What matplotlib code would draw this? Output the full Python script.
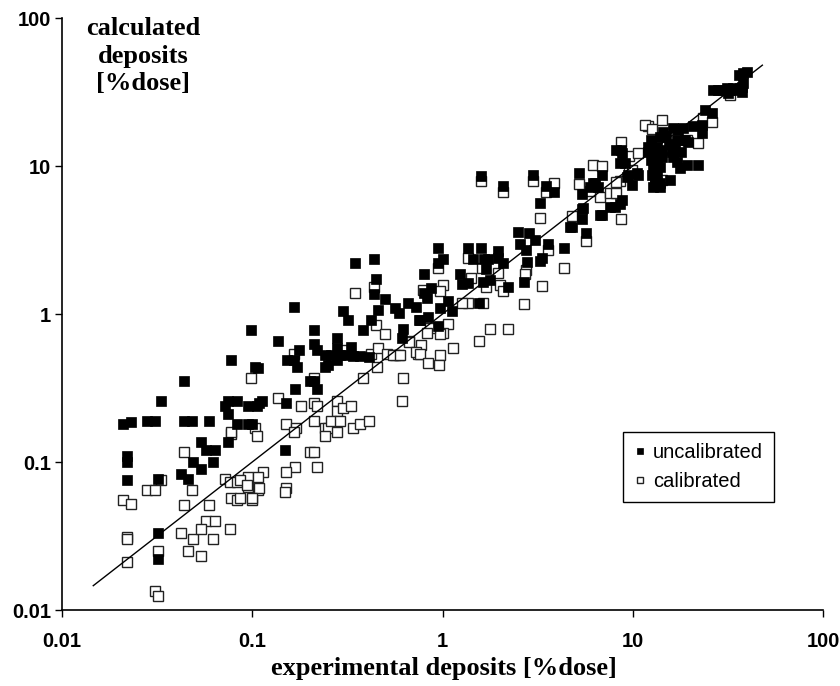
import numpy as np
import matplotlib
matplotlib.use("Agg")
from matplotlib import pyplot as plt

# (experimental, calculated) deposits in %dose
uncalibrated = [
    (0.021, 0.18), (0.023, 0.185), (0.022, 0.11), (0.022, 0.1), (0.022, 0.075),
    (0.028, 0.19), (0.031, 0.19), (0.033, 0.26), (0.032, 0.077), (0.032, 0.033), (0.032, 0.022),
    (0.044, 0.35), (0.044, 0.19), (0.048, 0.19), (0.059, 0.19), (0.054, 0.137), (0.057, 0.12),
    (0.064, 0.12), (0.049, 0.1), (0.054, 0.09), (0.062, 0.1), (0.042, 0.083), (0.046, 0.077),
    (0.075, 0.26), (0.083, 0.26), (0.072, 0.24), (0.075, 0.21), (0.095, 0.24), (0.106, 0.24),
    (0.083, 0.18), (0.095, 0.18), (0.1, 0.18), (0.075, 0.137), (0.108, 0.25), (0.112, 0.26),
    (0.15, 0.25), (0.149, 0.12), (0.077, 0.49),
    (0.098, 0.78), (0.136, 0.66), (0.21, 0.78), (0.176, 0.57), (0.152, 0.49), (0.165, 0.49),
    (0.171, 0.44), (0.21, 0.63), (0.22, 0.57), (0.24, 0.53), (0.26, 0.53), (0.28, 0.69),
    (0.28, 0.59), (0.33, 0.6), (0.29, 0.53), (0.31, 0.53), (0.34, 0.52), (0.37, 0.52),
    (0.41, 0.51), (0.24, 0.44), (0.25, 0.45), (0.28, 0.49), (0.103, 0.44), (0.107, 0.43),
    (0.2, 0.35), (0.21, 0.35), (0.22, 0.31), (0.167, 0.31),
    (0.165, 1.11), (0.3, 1.05), (0.32, 0.91), (0.38, 0.78), (0.42, 0.91), (0.5, 1.26),
    (0.46, 1.06), (0.56, 1.1), (0.59, 1.02), (0.66, 1.18), (0.73, 1.11), (0.75, 0.91),
    (0.62, 0.79), (0.61, 0.69), (0.347, 2.2), (0.436, 2.35), (0.445, 1.72), (0.436, 1.37),
    (0.83, 1.28), (0.97, 1.1), (1.07, 1.22), (1.12, 1.05), (1.55, 1.19), (0.76, 0.91),
    (0.84, 0.95), (0.95, 0.83),
    (0.95, 2.79), (1.36, 2.79), (1.59, 2.79), (1.96, 2.67), (1.01, 2.35), (0.95, 2.21),
    (1.45, 2.35), (1.65, 2.35), (1.73, 2.34), (1.96, 2.39), (2.08, 2.21), (0.8, 1.86),
    (1.24, 1.86), (1.27, 1.6), (1.36, 1.63), (1.69, 2.01), (1.63, 1.64), (1.78, 1.7),
    (2.2, 1.53), (0.87, 1.5), (0.8, 1.39),
    (1.59, 8.56), (2.99, 8.7), (2.08, 7.3), (3.5, 7.3), (3.85, 6.7), (5.2, 9.0),
    (5.96, 7.2), (6.3, 7.7), (6.6, 7.2), (5.4, 6.5), (3.26, 5.6), (5.4, 5.1), (5.4, 4.4),
    (4.7, 3.9), (6.7, 4.7), (5.7, 3.5), (2.49, 3.6), (2.85, 3.5), (2.55, 2.97), (2.75, 2.7),
    (3.06, 3.16), (3.59, 2.97), (4.35, 2.79), (2.78, 2.24), (2.68, 1.64), (3.33, 2.39),
    (3.26, 2.28),
    (6.9, 8.7), (8.6, 10.5), (9.1, 10.5), (8.8, 12.2), (9.4, 8.7), (10.7, 8.7), (9.9, 7.4),
    (12.0, 12.4), (12.8, 11.5), (13.4, 10.5), (14.3, 11.5), (16.3, 11.5), (17.1, 10.6),
    (17.7, 9.7), (19.3, 10.2), (22.0, 10.2), (12.6, 8.7), (13.4, 7.8), (13.1, 7.4),
    (13.9, 7.2), (15.7, 8.0), (8.8, 5.9), (8.1, 5.3), (7.6, 5.3), (6.9, 4.7), (4.8, 3.9),
    (38, 42.5), (40, 43), (36, 41), (38, 36.4), (26.4, 32.6), (28.1, 32.6), (29.8, 32.6),
    (31.3, 33.6), (32.4, 32.6), (33.6, 33.6), (35.3, 32.6), (36.7, 33.6), (37.5, 34.2),
    (37.5, 31.6), (31.6, 31.1), (24, 23.9), (26.1, 22.8), (23.2, 18.9), (23.2, 16.7),
    (20.7, 18.5),
    (16.3, 18.2), (17.3, 17.6), (18.3, 18.2), (18.8, 15), (19.5, 14.6), (16.7, 13.5),
    (13.9, 15.8), (13.4, 13.5), (14.3, 12.9), (12.0, 13.5), (13.1, 11.8), (12.4, 11.0),
    (15, 16), (14.5, 17), (17, 15), (15.5, 14), (12.5, 15), (18, 12.5), (16, 12.5),
    (8.7, 12.9), (8.2, 12.9), (9.3, 8.4), (10.5, 9.0), (12.8, 9.8), (13.4, 9.1), (13.9, 9.8),
    (13.1, 8.0), (13.9, 7.7), (12.8, 7.2), (6.2, 7.7), (8.6, 5.5), (5.5, 5.2),
]

calibrated = [
    (0.021, 0.055), (0.023, 0.052), (0.022, 0.031), (0.022, 0.03), (0.022, 0.021),
    (0.033, 0.075), (0.028, 0.065), (0.031, 0.065), (0.032, 0.025), (0.031, 0.0135),
    (0.032, 0.0125),
    (0.044, 0.117), (0.048, 0.065), (0.044, 0.051), (0.059, 0.051), (0.042, 0.033),
    (0.049, 0.03), (0.046, 0.025), (0.054, 0.023), (0.057, 0.04), (0.064, 0.04),
    (0.054, 0.035), (0.062, 0.03), (0.076, 0.035),
    (0.077, 0.155), (0.103, 0.17), (0.106, 0.15), (0.072, 0.077), (0.076, 0.073),
    (0.083, 0.073), (0.095, 0.077), (0.095, 0.068), (0.107, 0.065), (0.077, 0.057),
    (0.083, 0.055), (0.1, 0.055),
    (0.436, 1.53), (0.347, 1.38), (0.445, 0.84), (0.5, 0.73), (0.67, 0.66), (0.74, 0.54),
    (0.165, 0.54), (0.3, 0.57), (0.42, 0.54), (0.46, 0.59), (0.51, 0.54), (0.56, 0.53),
    (0.59, 0.53), (0.45, 0.44), (0.38, 0.37), (0.62, 0.37), (0.61, 0.26), (0.098, 0.37),
    (0.21, 0.37),
    (0.136, 0.27), (0.18, 0.24), (0.21, 0.25), (0.22, 0.24), (0.28, 0.26), (0.28, 0.22),
    (0.3, 0.23), (0.33, 0.24), (0.077, 0.16), (0.15, 0.18), (0.17, 0.17), (0.165, 0.16),
    (0.21, 0.19), (0.24, 0.17), (0.25, 0.17), (0.24, 0.15), (0.26, 0.19), (0.29, 0.19),
    (0.28, 0.16), (0.34, 0.17), (0.37, 0.18), (0.41, 0.19), (0.2, 0.117), (0.21, 0.117),
    (0.167, 0.092), (0.22, 0.092), (0.15, 0.0855), (0.15, 0.067), (0.148, 0.063),
    (0.114, 0.086), (0.095, 0.079), (0.107, 0.079), (0.086, 0.076), (0.094, 0.07),
    (0.108, 0.067), (0.1, 0.057), (0.086, 0.057),
    (1.59, 7.9), (3.0, 7.9), (2.08, 6.7), (3.85, 7.7), (3.5, 6.7), (6.2, 10.2),
    (5.2, 7.6), (6.7, 6.2), (3.26, 4.45), (4.8, 4.6), (5.7, 3.1), (3.59, 2.7),
    (2.75, 1.98), (2.7, 1.86), (3.33, 1.55), (4.35, 2.05), (2.68, 1.17),
    (0.95, 2.05), (1.36, 2.39), (1.42, 1.75), (1.62, 2.05), (1.96, 1.89), (2.0, 1.57),
    (1.7, 1.53), (2.08, 1.43), (1.01, 1.57), (0.97, 1.43), (0.79, 1.46), (1.63, 1.19),
    (1.36, 1.19), (1.27, 1.19),
    (1.07, 0.86), (1.01, 0.74), (0.97, 0.73), (0.86, 0.81), (0.83, 0.74), (0.67, 0.65),
    (0.77, 0.62), (0.73, 0.55), (0.76, 0.54), (0.55, 0.53), (0.6, 0.53), (1.13, 0.59),
    (0.97, 0.53), (0.84, 0.47), (0.96, 0.45), (1.78, 0.79), (2.2, 0.79), (1.55, 0.66),
    (6.9, 10.0), (5.96, 6.8), (9.6, 11.7), (10.7, 12.2), (8.6, 7.9), (8.2, 7.8),
    (9.6, 9.2), (13.1, 9.4), (14.3, 8.0), (7.6, 6.6), (8.2, 6.6), (8.7, 4.4),
    (8.7, 14.6), (12.0, 18.7), (14.3, 20.5), (11.6, 18.9), (12.6, 17.9), (19.3, 15),
    (22, 14.3), (23.5, 21.1), (26.1, 19.8), (32.4, 30.2), (9.9, 9.4),
]

line_ends = [0.0146, 48]
ticks = [0.01, 0.1, 1, 10, 100]
tick_labels = ["0.01", "0.1", "1", "10", "100"]

unc = np.array(uncalibrated)
cal = np.array(calibrated)

fig = plt.figure(figsize=(8.4, 6.86), dpi=100)
ax = fig.add_axes([62 / 840, 76 / 686, 761 / 840, 592 / 686])

ax.plot(cal[:, 0], cal[:, 1], "s", ms=6.6, mfc="white", mec="#222222", mew=1.0,
        ls="none", label="calibrated", zorder=2)
ax.plot(unc[:, 0], unc[:, 1], "s", ms=7, mfc="black", mec="black", mew=0.5,
        ls="none", label="uncalibrated", zorder=3)
ax.plot(line_ends, line_ends, color="black", lw=1.0, zorder=4)

ax.set_xscale("log")
ax.set_yscale("log")
ax.set_xlim(0.01, 100)
ax.set_ylim(0.01, 100)
ax.set_xticks(ticks)
ax.set_xticklabels(tick_labels)
ax.set_yticks(ticks)
ax.set_yticklabels(tick_labels)
ax.minorticks_off()

for s in ["top", "right"]:
    ax.spines[s].set_visible(False)
for s in ["left", "bottom"]:
    ax.spines[s].set_linewidth(1.2)

ax.tick_params(direction="out", length=5, width=1.0, pad=11, labelsize=14.5)
ax.tick_params(axis="y", pad=3)
for lab in ax.get_xticklabels() + ax.get_yticklabels():
    lab.set_fontweight("bold")
    lab.set_family("Liberation Sans")

handles, labels = ax.get_legend_handles_labels()
leg = ax.legend(handles[::-1], labels[::-1], loc="upper left",
                bbox_to_anchor=((623 - 62) / 761, (610 - 432) / 592),
                borderaxespad=0,
                frameon=True, fancybox=False, framealpha=1, edgecolor="black",
                prop={"family": "Liberation Sans", "size": 14.5},
                markerscale=0.7, handlelength=0.6, handletextpad=0.35,
                borderpad=0.55, labelspacing=0.5)
leg.get_frame().set_linewidth(1.0)

fig.text(143 / 840, 1 - 17 / 686, "calculated\ndeposits\n[%dose]", ha="center", va="top",
         family="Liberation Serif", weight="bold", fontsize=19, linespacing=1.25)
fig.text(444 / 840, 1 - 668 / 686, "experimental deposits [%dose]", ha="center",
         va="center", family="Liberation Serif", weight="bold", fontsize=19)

fig.savefig("out.png", dpi=100)
